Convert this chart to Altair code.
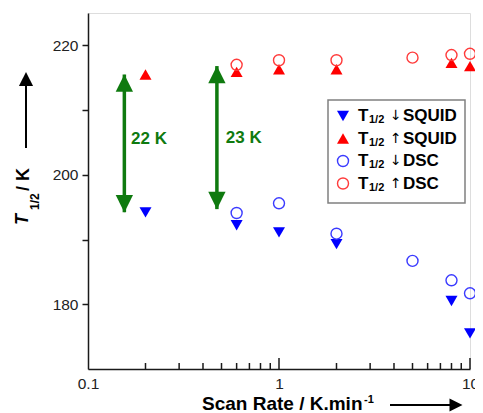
import altair as alt
import pandas as pd

# ---- data ----
rate_sq_down = [0.2, 0.6, 1, 2, 8, 10]
T_sq_down = [194.2, 192.2, 191.1, 189.3, 180.5, 175.5]
rate_sq_up = [0.2, 0.6, 1, 2, 8, 10]
T_sq_up = [215.5, 215.9, 216.3, 216.3, 217.3, 216.8]
rate_dsc_down = [0.6, 1, 2, 5, 8, 10]
T_dsc_down = [194.1, 195.6, 190.9, 186.7, 183.7, 181.7]
rate_dsc_up = [0.6, 1, 2, 5, 8, 10]
T_dsc_up = [217.0, 217.7, 217.7, 218.1, 218.5, 218.7]

arrow_x = [0.155, 0.473]
arrow_top = [215.5, 216.8]
arrow_bot = [194.2, 194.7]
arrow_label = ["22 K", "23 K"]
arrow_label_x = [0.168, 0.527]
arrow_label_y = [205.5, 205.7]

x_major = [1, 10]
x_minor = [0.2, 0.3, 0.4, 0.5, 0.6, 0.7, 0.8, 0.9, 2, 3, 4, 5, 6, 7, 8, 9]
y_ticks = [180, 190, 200, 210, 220]

W, H = 382, 356
FONT = "Liberation Sans"
BLUE, RED = "#0000ff", "#ff0000"
BLUE_O, RED_O = "#3b3bff", "#ff3b3b"
GREEN = "#0f7a0f"
AX = "#1a1a1a"

xs = alt.Scale(type="log", domain=[0.1, 10], nice=False)
ys = alt.Scale(domain=[170, 225], nice=False, zero=False)

def df(r, t):
    return pd.DataFrame({"rate": r, "T": t})

X = alt.X("rate:Q", scale=xs,
          axis=alt.Axis(values=[0.1, 1, 10], format="~g", tickSize=0, grid=False,
                        labelFont=FONT, labelFontSize=15.5, labelColor="#222",
                        labelPadding=7, domainColor=AX, domainWidth=1.5,
                        title=None, labelFlush=False))
Y = alt.Y("T:Q", scale=ys,
          axis=alt.Axis(values=y_ticks, grid=False, tickSize=6, tickWidth=1.5,
                        tickColor=AX, domainColor=AX, domainWidth=1.5,
                        labelExpr="datum.value % 20 == 0 ? datum.label : ''",
                        labelFont=FONT, labelFontSize=15.5, labelColor="#222",
                        labelPadding=4, title=None))

base_axes = alt.Chart(df(rate_sq_down, T_sq_down)).mark_point(opacity=0).encode(x=X, y=Y)

sq_down = alt.Chart(df(rate_sq_down, T_sq_down)).mark_point(
    shape="triangle-down", filled=True, size=144, color=BLUE, opacity=1
).encode(x=alt.X("rate:Q", scale=xs), y=alt.Y("T:Q", scale=ys))
sq_up = alt.Chart(df(rate_sq_up, T_sq_up)).mark_point(
    shape="triangle-up", filled=True, size=144, color=RED, opacity=1
).encode(x=alt.X("rate:Q", scale=xs), y=alt.Y("T:Q", scale=ys))
dsc_down = alt.Chart(df(rate_dsc_down, T_dsc_down)).mark_point(
    shape="circle", filled=False, size=121, color=BLUE_O, strokeWidth=1.4, opacity=1
).encode(x=alt.X("rate:Q", scale=xs), y=alt.Y("T:Q", scale=ys))
dsc_up = alt.Chart(df(rate_dsc_up, T_dsc_up)).mark_point(
    shape="circle", filled=False, size=121, color=RED_O, strokeWidth=1.4, opacity=1
).encode(x=alt.X("rate:Q", scale=xs), y=alt.Y("T:Q", scale=ys))

# inward x ticks
one = pd.DataFrame({"a": [0]})
tmin = alt.Chart(pd.DataFrame({"rate": x_minor})).mark_rule(color=AX, strokeWidth=1.5).encode(
    x=alt.X("rate:Q", scale=xs), y=alt.value(H), y2=alt.value(H - 6))
tmaj = alt.Chart(pd.DataFrame({"rate": x_major})).mark_rule(color=AX, strokeWidth=1.5).encode(
    x=alt.X("rate:Q", scale=xs), y=alt.value(H), y2=alt.value(H - 11))

# green double arrows
arr = pd.DataFrame({"x": arrow_x, "top": arrow_top, "bot": arrow_bot})
shaft = alt.Chart(arr).mark_rule(color=GREEN, strokeWidth=3.5).encode(
    x=alt.X("x:Q", scale=xs), y=alt.Y("top:Q", scale=ys), y2="bot:Q")
head_up = alt.Chart(arr).mark_point(
    shape="M0,-1L1,1L-1,1Z", filled=True, size=300, color=GREEN, opacity=1, yOffset=8.6
).encode(x=alt.X("x:Q", scale=xs), y=alt.Y("top:Q", scale=ys))
head_dn = alt.Chart(arr).mark_point(
    shape="M0,1L1,-1L-1,-1Z", filled=True, size=300, color=GREEN, opacity=1, yOffset=-8.6
).encode(x=alt.X("x:Q", scale=xs), y=alt.Y("bot:Q", scale=ys))
lab = alt.Chart(pd.DataFrame({"x": arrow_label_x, "y": arrow_label_y, "t": arrow_label})).mark_text(
    font=FONT, fontSize=17, fontWeight="bold", color=GREEN, align="left", baseline="middle"
).encode(x=alt.X("x:Q", scale=xs), y=alt.Y("y:Q", scale=ys), text="t:N")

# legend (annotation)
layers = []
layers.append(alt.Chart(one).mark_rect(fill="white", stroke="#808080", strokeWidth=1.5).encode(
    x=alt.value(240), x2=alt.value(377), y=alt.value(87), y2=alt.value(190)))
leg_rows = [
    ("triangle-down", True, BLUE, "↓", "SQUID", 103),
    ("triangle-up", True, RED, "↑", "SQUID", 125.5),
    ("circle", False, BLUE_O, "↓", "DSC", 148),
    ("circle", False, RED_O, "↑", "DSC", 170.5),
]
for shp, fil, col, ar, name, yy in leg_rows:
    if fil:
        m = alt.Chart(one).mark_point(shape=shp, filled=True, size=144, color=col, opacity=1)
    else:
        m = alt.Chart(one).mark_point(shape=shp, filled=False, size=121, color=col,
                                      strokeWidth=1.4, opacity=1)
    layers.append(m.encode(x=alt.value(255), y=alt.value(yy)))
    layers.append(alt.Chart(one).mark_text(text="T", font=FONT, fontSize=17, fontWeight="bold",
                                           align="left", baseline="middle", color="black").encode(
        x=alt.value(270), y=alt.value(yy)))
    layers.append(alt.Chart(one).mark_text(text="1/2", font=FONT, fontSize=11, fontWeight="bold",
                                           align="left", baseline="middle", color="black").encode(
        x=alt.value(281), y=alt.value(yy + 4)))
    layers.append(alt.Chart(one).mark_text(text=ar, font="DejaVu Sans", fontSize=14,
                                           align="left", baseline="middle", color="black").encode(
        x=alt.value(302), y=alt.value(yy)))
    layers.append(alt.Chart(one).mark_text(text=name, font=FONT, fontSize=17, fontWeight="bold",
                                           align="left", baseline="middle", color="black").encode(
        x=alt.value(315), y=alt.value(yy)))

# y axis title (rotated) with arrow
layers.append(alt.Chart(one).mark_text(text="T", font=FONT, fontSize=18, fontWeight="bold",
                                       fontStyle="italic", angle=270, align="left",
                                       baseline="middle", color="black").encode(
    x=alt.value(-65), y=alt.value(212)))
layers.append(alt.Chart(one).mark_text(text="1/2", font=FONT, fontSize=12, fontWeight="bold",
                                       angle=270, align="left", baseline="middle",
                                       color="black").encode(
    x=alt.value(-53), y=alt.value(197)))
layers.append(alt.Chart(one).mark_text(text="/ K", font=FONT, fontSize=18, fontWeight="bold",
                                       angle=270, align="left", baseline="middle",
                                       color="black").encode(
    x=alt.value(-64), y=alt.value(178)))
layers.append(alt.Chart(one).mark_rule(color="black", strokeWidth=2).encode(
    x=alt.value(-62), y=alt.value(135), y2=alt.value(66)))
layers.append(alt.Chart(one).mark_point(shape="M0,-1L1,1L-1,1Z", filled=True, size=200,
                                        color="black", opacity=1).encode(
    x=alt.value(-62), y=alt.value(66)))

# x axis title with arrow
layers.append(alt.Chart(one).mark_text(text="Scan Rate / K.min", font=FONT, fontSize=19,
                                       fontWeight="bold", align="left", baseline="alphabetic",
                                       color="black").encode(
    x=alt.value(114), y=alt.value(397)))
layers.append(alt.Chart(one).mark_text(text="-1", font=FONT, fontSize=11, fontWeight="bold",
                                       align="left", baseline="alphabetic",
                                       color="black").encode(
    x=alt.value(276), y=alt.value(390)))
layers.append(alt.Chart(one).mark_rule(color="black", strokeWidth=2).encode(
    x=alt.value(302), x2=alt.value(368), y=alt.value(392)))
layers.append(alt.Chart(one).mark_point(shape="M1,0L-1,-1L-1,1Z", filled=True, size=170,
                                        color="black", opacity=1).encode(
    x=alt.value(368), y=alt.value(392)))

chart = alt.layer(
    base_axes, tmin, tmaj, shaft, head_up, head_dn, lab,
    sq_down, sq_up, dsc_down, dsc_up, *layers
).properties(
    width=W, height=H,
    autosize=alt.AutoSizeParams(type="none"),
    padding={"left": 80, "top": 5, "right": 5, "bottom": 44},
).configure_view(stroke=None).configure(background="white")

chart.save("out.html", embed_options={"renderer": "svg", "actions": False})
